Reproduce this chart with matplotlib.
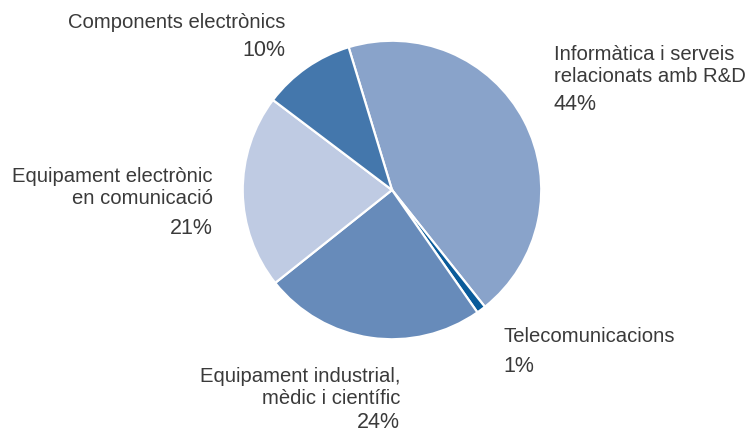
import matplotlib
matplotlib.use("Agg")
import matplotlib.pyplot as plt

# Sector shares (%), drawn clockwise from the top
sectors = [
    "Informàtica i serveis\nrelacionats amb R&D",
    "Telecomunicacions",
    "Equipament industrial,\nmèdic i científic",
    "Equipament electrònic\nen comunicació",
    "Components electrònics",
]
shares = [44, 1, 24, 21, 10]
colors = ["#89a3ca", "#0a5b9a", "#678bba", "#bfcbe3", "#4477ac"]

W, H, DPI = 750, 433, 100
plt.rcParams["font.family"] = ["Liberation Sans", "DejaVu Sans"]
fig = plt.figure(figsize=(W / DPI, H / DPI), dpi=DPI)

# Pie axes
cx, cy, r = 392, 190, 150
ax = fig.add_axes([(cx - r) / W, (H - cy - r) / H, 2 * r / W, 2 * r / H])
ax.pie(shares, colors=colors, startangle=90 + 16.9, counterclock=False,
       radius=1.0, wedgeprops=dict(edgecolor="white", linewidth=1.6))
ax.set_xlim(-1.005, 1.005)
ax.set_ylim(-1.005, 1.005)
ax.set_aspect("equal")
ax.axis("off")

# Overlay for labels in pixel coordinates
ov = fig.add_axes([0, 0, 1, 1])
ov.set_xlim(0, W)
ov.set_ylim(H, 0)
ov.axis("off")

tc = "#3a3a3a"
fs_name = 14.6
fs_pct = 15.5
# (x, y of first line, alignment, y of percentage)
layout = [
    (554, 55, "left", 104),
    (503, 337, "left", 366),
    (400, 377, "right", 422),
    (213, 176, "right", 228),
    (285, 22, "right", 50),
]
for name, val, (x, y, ha, yp) in zip(sectors, shares, layout):
    for i, line in enumerate(name.split("\n")):
        ov.text(x, y + 22 * i, line, ha=ha, va="center", fontsize=fs_name, color=tc)
    ov.text(x, yp, f"{val}%", ha=ha, va="center", fontsize=fs_pct, color=tc)

fig.savefig("out.png", dpi=DPI, facecolor="white")
